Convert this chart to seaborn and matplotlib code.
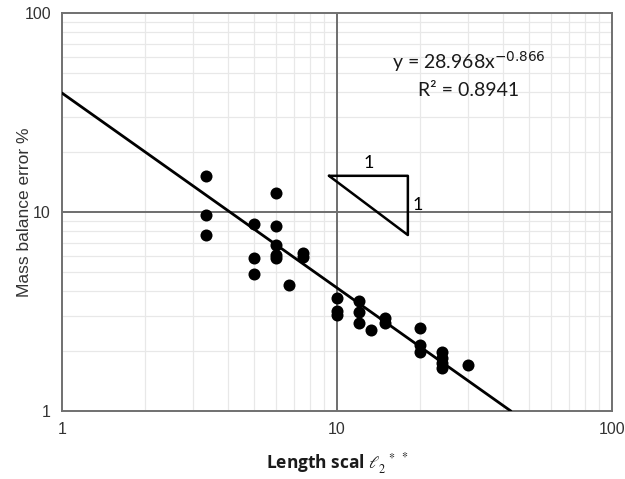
import numpy as np
import pandas as pd
import matplotlib
matplotlib.use("Agg")
import matplotlib.pyplot as plt
import seaborn as sns

# Data
length_scale = [3.33, 3.33, 3.33,
                5, 5, 5,
                6, 6, 6, 6, 6,
                6.67,
                7.5, 7.5,
                10, 10, 10,
                12, 12, 12,
                13.33,
                15, 15,
                20, 20, 20,
                24, 24, 24, 24,
                30]
mass_error = [15.2, 9.66, 7.66,
              8.7, 5.87, 4.88,
              12.5, 8.5, 6.83, 6.05, 5.85,
              4.3,
              6.22, 5.94,
              3.70, 3.18, 3.04,
              3.57, 3.14, 2.77,
              2.55,
              2.93, 2.77,
              2.61, 2.15, 1.98,
              1.98, 1.85, 1.74, 1.64,
              1.70]
# Trend line as drawn (power law), from picture
fit_coef = 39.6
fit_exp = -0.979
fit_x_range = [1.0, 42.9]
# Slope triangle vertices
tri_x = [9.35, 18.1, 18.1, 9.35]
tri_y = [15.2, 15.2, 7.66, 15.2]

eq_text = "y = 28.968x$^{-0.866}$"
r2_text = "R² = 0.8941"

df = pd.DataFrame({"x": length_scale, "y": mass_error})
xf = np.logspace(np.log10(fit_x_range[0]), np.log10(fit_x_range[1]), 50)
fit_df = pd.DataFrame({"x": xf, "y": fit_coef * xf ** fit_exp})

sns.set_style("white")
plt.rcParams["font.family"] = ["Liberation Sans", "DejaVu Sans"]
plt.rcParams["mathtext.fontset"] = "stix"

fig = plt.figure(figsize=(6.25, 4.79), dpi=100)
ax = fig.add_axes([62/625, 1-411/479, 550/625, 398/479])
ax.set_xscale("log")
ax.set_yscale("log")
ax.set_xlim(1, 100)
ax.set_ylim(1, 100)

ax.axvline(10, color="#6e6e6e", lw=1.4, zorder=1)
ax.axhline(10, color="#6e6e6e", lw=1.4, zorder=1)
ax.set_axisbelow(True)

sns.lineplot(data=fit_df, x="x", y="y", ax=ax, color="black", lw=2.0, zorder=3)
sns.scatterplot(data=df, x="x", y="y", ax=ax, color="black", s=75,
                edgecolor="black", linewidth=0, zorder=4)
ax.plot(tri_x, tri_y, color="black", lw=1.8, zorder=3)
ax.text(np.sqrt(tri_x[0]*tri_x[1]), tri_y[0]*1.06, "1", ha="center", va="bottom",
        fontsize=13, family=["Lato", "DejaVu Sans"], color="black")
ax.text(tri_x[1]*1.04, np.sqrt(tri_y[0]*tri_y[2]), "1", ha="left", va="center",
        fontsize=13, family=["Lato", "DejaVu Sans"], color="black")

ax.text(0.74, 0.878, eq_text, transform=ax.transAxes, ha="center", va="center",
        fontsize=14, family=["Lato", "DejaVu Sans"], color="#1a1a1a",
        math_fontfamily="dejavusans")
ax.text(0.74, 0.805, r2_text, transform=ax.transAxes, ha="center", va="center",
        fontsize=14, family=["Lato", "DejaVu Sans"], color="#1a1a1a")

for s in ax.spines.values():
    s.set_color("#707070")
    s.set_linewidth(1.4)

ax.set_xticks([1, 10, 100])
ax.set_xticklabels(["1", "10", "100"])
ax.set_yticks([1, 10, 100])
ax.set_yticklabels(["1", "10", "100"])
ax.set_xticks([a * b for b in (1, 10) for a in range(2, 10)], minor=True)
ax.set_yticks([a * b for b in (1, 10) for a in range(2, 10)], minor=True)
ax.grid(True, which="minor", color="#e8e8e8", lw=0.9)
ax.grid(False, which="major")
ax.tick_params(axis="both", which="minor", length=0)
ax.tick_params(axis="both", which="major", length=5, width=1.4, color="#333333",
               labelsize=11.5, labelcolor="#333333", direction="out", pad=3)

ax.set_ylabel("Mass balance error %", fontsize=12.5, color="#333333")
ax.yaxis.set_label_coords(-0.054, 0.5)
ax.set_xlabel(r"Length scal $\ell_{2}^{\ \ *}$ $^{*}$", fontsize=12.5,
              fontweight="bold", color="#1a1a1a", labelpad=10,
              family=["Open Sans", "DejaVu Sans"])

fig.savefig("out.png", dpi=100)
